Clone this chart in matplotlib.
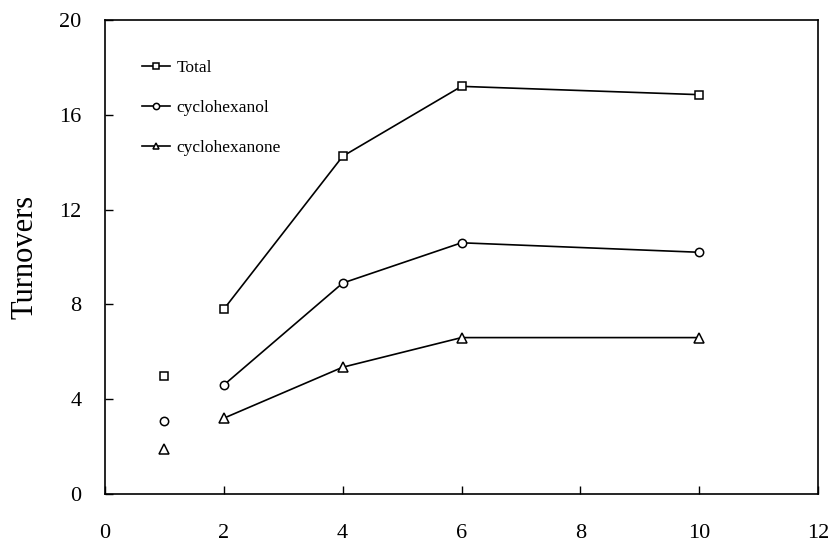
import matplotlib
matplotlib.use('Agg')
import matplotlib.pyplot as plt

plt.rcParams['font.family'] = ['Liberation Serif', 'DejaVu Serif']

# time points joined by lines, plus the lone first point
x_line = [2, 4, 6, 10]
x_first = [1]

total = [7.8, 14.25, 17.2, 16.85]
hexanol = [4.6, 8.9, 10.6, 10.2]
hexanone = [3.2, 5.35, 6.6, 6.6]

total_first = [5.0]
hexanol_first = [3.1]
hexanone_first = [1.9]

x_ticks = [0, 2, 4, 6, 8, 10, 12]
y_ticks = [0, 4, 8, 12, 16, 20]

fig = plt.figure(figsize=(8.32, 5.48), dpi=100)
ax = fig.add_axes([0.1262, 0.0985, 0.857, 0.865])

style = dict(color='black', lw=1.2, markerfacecolor='white',
             markeredgecolor='black', mew=1.1)

ax.plot(x_line, total, marker='s', ms=6, label='Total', **style)
ax.plot(x_line, hexanol, marker='o', ms=6, label='cyclohexanol', **style)
ax.plot(x_line, hexanone, marker='^', ms=6.5, label='cyclohexanone', **style)

ax.plot(x_first, total_first, marker='s', ms=6, ls='none', **style)
ax.plot(x_first, hexanol_first, marker='o', ms=6, ls='none', **style)
ax.plot(x_first, hexanone_first, marker='^', ms=6.5, ls='none', **style)

ax.set_xlim(0, 12)
ax.set_ylim(0, 20)
ax.set_xticks(x_ticks)
ax.set_yticks(y_ticks)
ax.tick_params(direction='in', length=6, width=1, labelsize=16)
ax.tick_params(axis='x', pad=21.5)
ax.tick_params(axis='y', pad=17)
for s in ax.spines.values():
    s.set_linewidth(1.2)

ax.set_ylabel('Turnovers', fontsize=22, labelpad=14)

ax.legend(loc='upper left', bbox_to_anchor=(0.052, 0.915), frameon=False,
          fontsize=12.5, borderaxespad=0, borderpad=0, labelspacing=1.35,
          handlelength=1.6, handletextpad=0.4, markerscale=0.75)

fig.savefig('out.png', dpi=100)
